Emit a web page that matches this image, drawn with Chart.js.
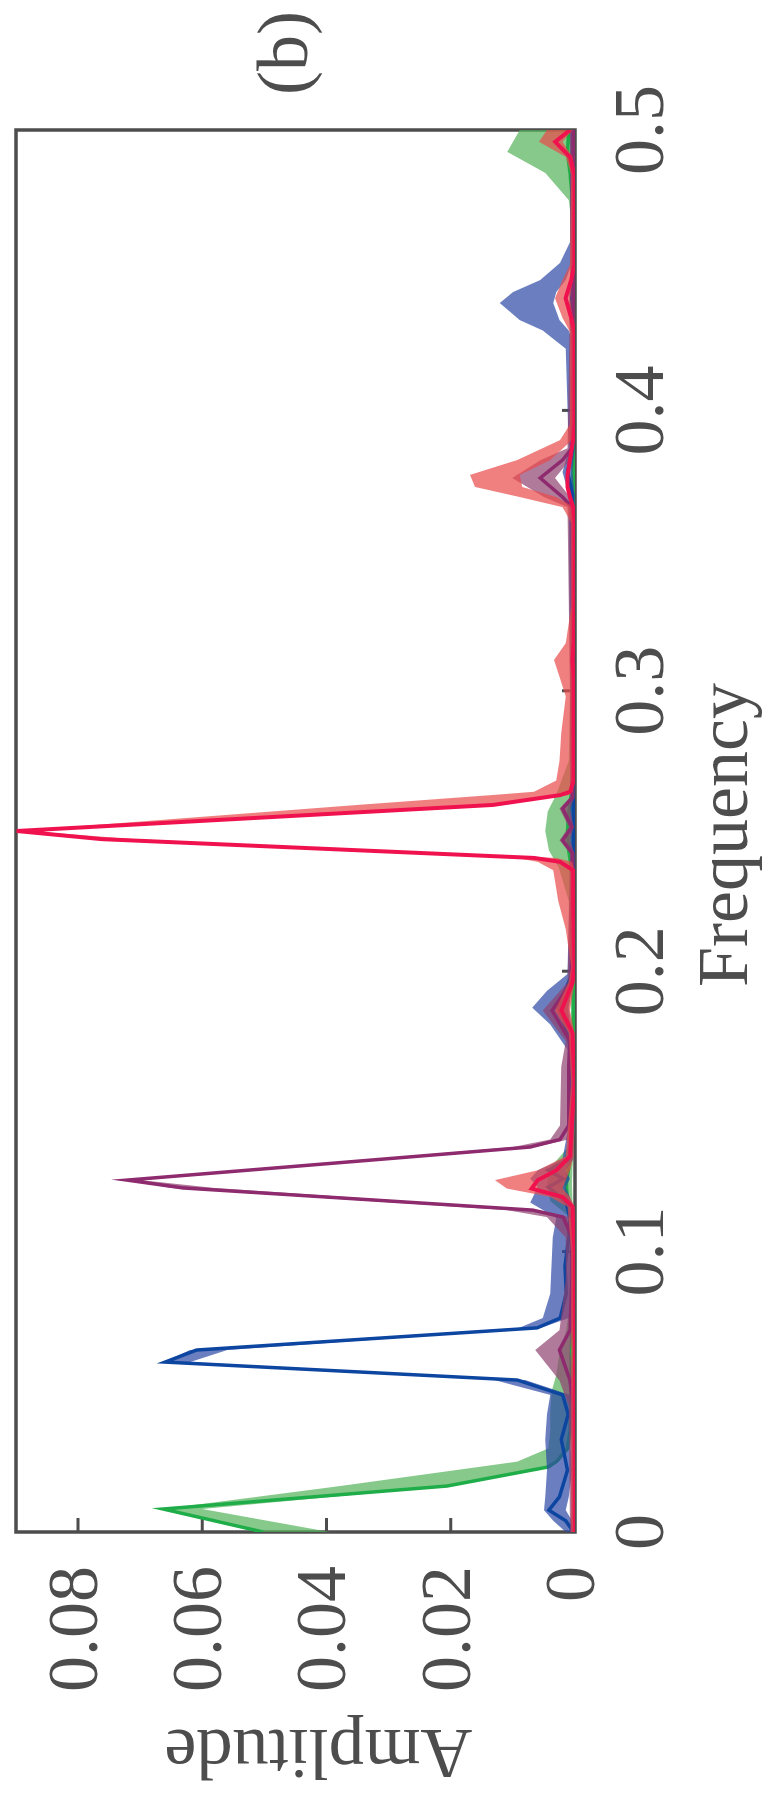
<!DOCTYPE html>
<html>
<head>
<meta charset="utf-8">
<script src="https://cdn.jsdelivr.net/npm/chart.js@4.4.1/dist/chart.umd.min.js"></script>
<style>
  html, body { margin: 0; padding: 0; background: #ffffff; overflow: hidden; }
  body { width: 775px; height: 1797px; position: relative; }
  /* the spectrum is laid out landscape and turned a quarter turn counter-clockwise */
  #wrap { position: absolute; left: -511px; top: 511px; width: 1797px; height: 775px;
          transform: rotate(-90deg); transform-origin: 50% 50%; }
  canvas { display: block; }
</style>
</head>
<body>
<div id="wrap"><canvas id="c" width="1797" height="775"></canvas></div>
<script>
// ---- axis ticks ----
const freqTickValues = [0, 0.1, 0.2, 0.3, 0.4, 0.5];
const freqTickLabels = ['0', '0.1', '0.2', '0.3', '0.4', '0.5'];
const ampTickValues = [0, 0.02, 0.04, 0.06, 0.08];
const ampTickLabels = ['0', '0.02', '0.04', '0.06', '0.08'];

// ---- green component: mean amplitude and spread band ----
const greenFreq = [0, 0.0082, 0.0164, 0.0232, 0.0251, 0.0298, 0.036, 0.043, 0.050, 0.056, 0.064, 0.072, 0.080, 0.095, 0.108, 0.113, 0.118, 0.124, 0.130, 0.137, 0.145, 0.170, 0.200, 0.225, 0.237, 0.243, 0.250, 0.257, 0.263, 0.275, 0.330, 0.380, 0.430, 0.468, 0.475, 0.4847, 0.4922, 0.500];
const greenMean = [0.0502, 0.0663, 0.0206, 0.0043, 0.0030, 0.0012, 0.0008, 0.0007, 0.0007, 0.0006, 0.0006, 0.0005, 0.0004, 0.0004, 0.0004, 0.0006, 0.0012, 0.0014, 0.0010, 0.0005, 0.0004, 0.0003, 0.0003, 0.0003, 0.0006, 0.0010, 0.0012, 0.0010, 0.0006, 0.0003, 0.0003, 0.0003, 0.0003, 0.0003, 0.0004, 0.0008, 0.0012, 0.0010];
const greenLow  = [0.0395, 0.0600, 0.0206, 0.0043, 0.0026, 0.0008, 0.0004, 0.0003, 0.0003, 0.0003, 0.0003, 0.0002, 0.0001, 0.0001, 0.0001, 0.0002, 0.0004, 0.0005, 0.0004, 0.0002, 0.0001, 0.0001, 0.0001, 0.0001, 0.0002, 0.0003, 0.0004, 0.0003, 0.0002, 0.0001, 0.0001, 0.0001, 0.0001, 0.0001, 0.0002, 0.0004, 0.0006, 0.0005];
const greenHigh = [0.0502, 0.0663, 0.0378, 0.0155, 0.0093, 0.0043, 0.0040, 0.0040, 0.0038, 0.0030, 0.0025, 0.0014, 0.0009, 0.0008, 0.0008, 0.0012, 0.0040, 0.0045, 0.0040, 0.0012, 0.0008, 0.0006, 0.0006, 0.0010, 0.0026, 0.0042, 0.0048, 0.0044, 0.0030, 0.0010, 0.0006, 0.0006, 0.0006, 0.0006, 0.0010, 0.0048, 0.0109, 0.0089];

// ---- blue component ----
const blueFreq = [0, 0.0040, 0.0078, 0.0125, 0.022, 0.033, 0.042, 0.0489, 0.0542, 0.0606, 0.0649, 0.0728, 0.0763, 0.085, 0.095, 0.105, 0.112, 0.1175, 0.123, 0.126, 0.129, 0.133, 0.145, 0.172, 0.181, 0.187, 0.193, 0.199, 0.240, 0.300, 0.370, 0.378, 0.386, 0.422, 0.4285, 0.4322, 0.4383, 0.4422, 0.4465, 0.4526, 0.460, 0.500];
const blueMean = [0.0002, 0.0015, 0.0042, 0.0025, 0.0012, 0.0022, 0.0011, 0.0020, 0.0093, 0.0660, 0.0609, 0.0061, 0.0024, 0.0014, 0.0016, 0.0010, 0.0008, 0.0014, 0.0043, 0.0019, 0.0043, 0.0008, 0.0004, 0.0006, 0.0016, 0.0026, 0.0016, 0.0005, 0.0003, 0.0003, 0.0004, 0.0012, 0.0004, 0.0004, 0.0005, 0.0006, 0.0006, 0.0006, 0.0005, 0.0004, 0.0003, 0.0003];
const blueLow  = [0.0000, 0.0005, 0.0015, 0.0010, 0.0005, 0.0008, 0.0004, 0.0008, 0.0080, 0.0620, 0.0560, 0.0055, 0.0010, 0.0005, 0.0005, 0.0004, 0.0003, 0.0005, 0.0015, 0.0008, 0.0015, 0.0003, 0.0001, 0.0002, 0.0006, 0.0010, 0.0006, 0.0002, 0.0001, 0.0001, 0.0001, 0.0004, 0.0001, 0.0001, 0.0010, 0.0025, 0.0035, 0.0030, 0.0015, 0.0005, 0.0001, 0.0001];
const blueHigh = [0.0015, 0.0035, 0.0050, 0.0048, 0.0045, 0.0048, 0.0045, 0.0040, 0.0130, 0.0662, 0.0620, 0.0090, 0.0052, 0.0040, 0.0038, 0.0036, 0.0030, 0.0072, 0.0060, 0.0072, 0.0060, 0.0020, 0.0010, 0.0012, 0.0040, 0.0069, 0.0045, 0.0012, 0.0008, 0.0008, 0.0010, 0.0020, 0.0010, 0.0015, 0.0052, 0.0089, 0.0121, 0.0100, 0.0056, 0.0024, 0.0008, 0.0008];

// ---- purple component ----
const purpleFreq = [0, 0.045, 0.054, 0.0649, 0.072, 0.090, 0.105, 0.1123, 0.1148, 0.1227, 0.1255, 0.1373, 0.1400, 0.145, 0.166, 0.175, 0.186, 0.196, 0.235, 0.242, 0.2467, 0.2514, 0.258, 0.262, 0.300, 0.3655, 0.3691, 0.3759, 0.3823, 0.3865, 0.440, 0.500];
const purpleMean = [0.0003, 0.0003, 0.0008, 0.0025, 0.0008, 0.0005, 0.0005, 0.0019, 0.0068, 0.0631, 0.0721, 0.0072, 0.0024, 0.0010, 0.0010, 0.0008, 0.0037, 0.0006, 0.0004, 0.0004, 0.0020, 0.0005, 0.0020, 0.0004, 0.0003, 0.0005, 0.0020, 0.0056, 0.0020, 0.0005, 0.0003, 0.0003];
const purpleLow  = [0.0000, 0.0001, 0.0003, 0.0008, 0.0003, 0.0002, 0.0002, 0.0008, 0.0060, 0.0580, 0.0700, 0.0065, 0.0010, 0.0004, 0.0004, 0.0003, 0.0012, 0.0002, 0.0001, 0.0001, 0.0008, 0.0002, 0.0008, 0.0001, 0.0001, 0.0002, 0.0008, 0.0032, 0.0008, 0.0002, 0.0001, 0.0001];
const purpleHigh = [0.0008, 0.0010, 0.0025, 0.0064, 0.0025, 0.0015, 0.0015, 0.0045, 0.0110, 0.0650, 0.0721, 0.0100, 0.0040, 0.0024, 0.0022, 0.0015, 0.0052, 0.0012, 0.0008, 0.0008, 0.0025, 0.0010, 0.0025, 0.0008, 0.0008, 0.0012, 0.0050, 0.0101, 0.0055, 0.0012, 0.0008, 0.0008];

// ---- red component ----
const redFreq = [0, 0.100, 0.116, 0.1195, 0.1225, 0.1255, 0.129, 0.134, 0.160, 0.178, 0.186, 0.196, 0.2015, 0.215, 0.225, 0.236, 0.2390, 0.2404, 0.2471, 0.2500, 0.2593, 0.2628, 0.2640, 0.268, 0.275, 0.285, 0.298, 0.305, 0.311, 0.317, 0.330, 0.360, 0.3655, 0.3691, 0.3727, 0.3770, 0.3823, 0.3894, 0.395, 0.428, 0.433, 0.440, 0.4465, 0.452, 0.484, 0.4904, 0.4958, 0.500];
const redMean = [0.0000, 0.0001, 0.0004, 0.0020, 0.0070, 0.0060, 0.0030, 0.0008, 0.0001, 0.0004, 0.0022, 0.0004, 0.0001, 0.0002, 0.0003, 0.0003, 0.0024, 0.0066, 0.0762, 0.0899, 0.0132, 0.0024, 0.0008, 0.0002, 0.0002, 0.0002, 0.0002, 0.0002, 0.0004, 0.0002, 0.0001, 0.0001, 0.0003, 0.0008, 0.0012, 0.0012, 0.0008, 0.0003, 0.0001, 0.0001, 0.0006, 0.0015, 0.0006, 0.0001, 0.0001, 0.0008, 0.0032, 0.0008];
const redLow  = [0.0000, 0.0000, 0.0001, 0.0008, 0.0020, 0.0015, 0.0008, 0.0002, 0.0000, 0.0001, 0.0008, 0.0001, 0.0000, 0.0000, 0.0001, 0.0001, 0.0005, 0.0030, 0.0710, 0.0880, 0.0120, 0.0010, 0.0004, 0.0001, 0.0001, 0.0001, 0.0001, 0.0001, 0.0002, 0.0001, 0.0000, 0.0000, 0.0002, 0.0030, 0.0085, 0.0089, 0.0040, 0.0005, 0.0000, 0.0000, 0.0004, 0.0008, 0.0004, 0.0000, 0.0000, 0.0004, 0.0020, 0.0004];
const redHigh = [0.0006, 0.0006, 0.0012, 0.0040, 0.0110, 0.0129, 0.0060, 0.0015, 0.0006, 0.0010, 0.0032, 0.0010, 0.0006, 0.0015, 0.0027, 0.0035, 0.0060, 0.0095, 0.0780, 0.0900, 0.0350, 0.0135, 0.0066, 0.0030, 0.0025, 0.0022, 0.0015, 0.0025, 0.0034, 0.0015, 0.0006, 0.0006, 0.0020, 0.0089, 0.0161, 0.0169, 0.0093, 0.0024, 0.0008, 0.0008, 0.0020, 0.0032, 0.0020, 0.0008, 0.0006, 0.0015, 0.0058, 0.0045];

// ---- styling ----
const INK = '#4d4d4d';
const SERIF = '"Liberation Serif", "Times New Roman", serif';

function pts(freq, amp) {
  return freq.map((f, i) => ({ x: f, y: amp[i] }));
}

function bandSets(name, freq, low, high, color, order) {
  return [
    { label: name + ' min', data: pts(freq, low), borderWidth: 0, borderColor: 'rgba(0,0,0,0)',
      pointRadius: 0, fill: false, tension: 0, order },
    { label: name + ' max', data: pts(freq, high), borderWidth: 0, borderColor: 'rgba(0,0,0,0)',
      pointRadius: 0, fill: '-1', backgroundColor: color, tension: 0, order }
  ];
}

function lineSet(name, freq, mean, color, width, order) {
  return { label: name, data: pts(freq, mean), borderColor: color, borderWidth: width,
           pointRadius: 0, fill: false, tension: 0, borderJoinStyle: 'miter', order };
}

const datasets = [
  ...bandSets('green', greenFreq, greenLow, greenHigh, 'rgba(82,178,88,0.7)', 8),
  lineSet('green', greenFreq, greenMean, '#1fad4a', 3.5, 7),
  ...bandSets('blue', blueFreq, blueLow, blueHigh, 'rgba(44,72,165,0.7)', 6),
  lineSet('blue', blueFreq, blueMean, '#0d46a0', 3.5, 5),
  ...bandSets('purple', purpleFreq, purpleLow, purpleHigh, 'rgba(142,65,111,0.7)', 4),
  lineSet('purple', purpleFreq, purpleMean, '#8e2b6e', 3.5, 3),
  ...bandSets('red', redFreq, redLow, redHigh, 'rgba(233,74,74,0.7)', 2),
  lineSet('red', redFreq, redMean, '#f0124e', 4, 1)
];

// box, inward tick marks and the text that sits outside the axes
const framePlugin = {
  id: 'frame',
  beforeDatasetsDraw(chart) {
    const { ctx, chartArea: a, scales: { x, y } } = chart;
    ctx.save();
    ctx.strokeStyle = INK;
    ctx.lineWidth = 3.5;
    ctx.strokeRect(a.left, a.top, a.right - a.left, a.bottom - a.top);
    ctx.lineWidth = 3;
    ctx.beginPath();
    x.ticks.forEach(t => {
      if (t.value > x.min && t.value < x.max) {
        const p = x.getPixelForValue(t.value);
        ctx.moveTo(p, a.bottom);
        ctx.lineTo(p, a.bottom - 13);
      }
    });
    y.ticks.forEach(t => {
      if (t.value > y.min && t.value < y.max) {
        const p = y.getPixelForValue(t.value);
        ctx.moveTo(a.left, p);
        ctx.lineTo(a.left + 14, p);
      }
    });
    ctx.stroke();
    ctx.restore();
  },
  afterDraw(chart) {
    const { ctx, chartArea: a } = chart;
    ctx.save();
    ctx.fillStyle = INK;
    ctx.font = '72px ' + SERIF;
    ctx.textBaseline = 'alphabetic';
    ctx.textAlign = 'center';
    ctx.fillText('Frequency', (a.left + a.right) / 2 - 4, 747);
    ctx.save();
    ctx.translate(67, (a.top + a.bottom) / 2 + 23);
    ctx.rotate(-Math.PI / 2);
    ctx.fillText('Amplitude', 0, 0);
    ctx.restore();
    ctx.textAlign = 'left';
    ctx.fillText('(b)', 1702, 307);
    ctx.restore();
  }
};

new Chart(document.getElementById('c'), {
  type: 'line',
  data: { datasets },
  plugins: [framePlugin],
  options: {
    responsive: false,
    devicePixelRatio: 1,
    animation: false,
    events: [],
    layout: { padding: { left: 0, right: 130, top: 16, bottom: 0 } },
    plugins: { legend: { display: false }, tooltip: { enabled: false } },
    scales: {
      x: {
        type: 'linear',
        position: 'bottom',
        min: 0,
        max: 0.5,
        afterBuildTicks(scale) { scale.ticks = freqTickValues.map(v => ({ value: v })); },
        ticks: {
          color: INK,
          font: { family: SERIF, size: 72, lineHeight: 1.2 },
          padding: 26,
          maxRotation: 0,
          minRotation: 0,
          autoSkip: false,
          callback: (v, i) => freqTickLabels[i]
        },
        grid: { display: false, drawTicks: false },
        border: { display: false },
        afterFit(scale) { scale.height = 200; scale.paddingLeft = 0; scale.paddingRight = 0; }
      },
      y: {
        type: 'linear',
        position: 'left',
        min: 0,
        max: 0.09,
        afterBuildTicks(scale) { scale.ticks = ampTickValues.map(v => ({ value: v })); },
        ticks: {
          color: INK,
          font: { family: SERIF, size: 72, lineHeight: 1.2 },
          padding: 34,
          autoSkip: false,
          callback: (v, i) => ampTickLabels[i]
        },
        grid: { display: false, drawTicks: false },
        border: { display: false },
        afterFit(scale) { scale.width = 265; scale.paddingTop = 0; scale.paddingBottom = 0; }
      }
    }
  }
});
</script>
</body>
</html>
